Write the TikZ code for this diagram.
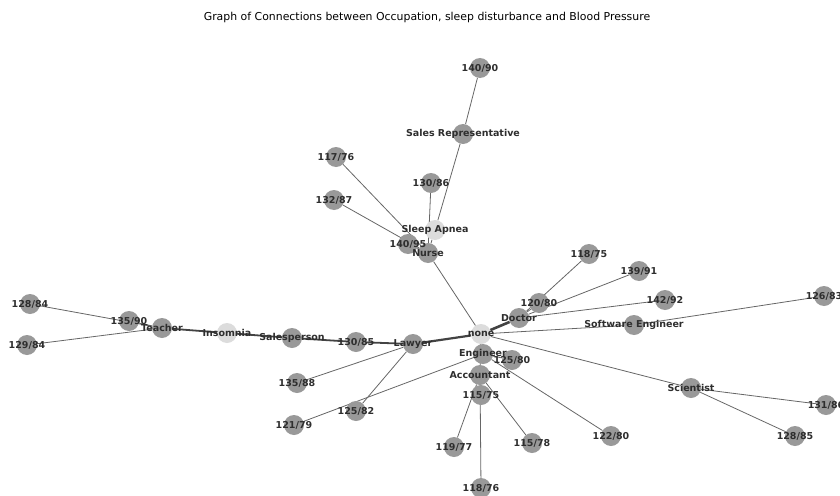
\documentclass[tikz,border=0pt]{standalone}
\usepackage{fontspec}
\setmainfont{DejaVu Sans}
\usepackage{xcolor}
\usepackage{tikz}
\usetikzlibrary{backgrounds}
\definecolor{NodeGray}{HTML}{999999}
\definecolor{NodeLight}{HTML}{DCDCDC}
\definecolor{EdgeGray}{HTML}{666666}
\definecolor{LabelInk}{HTML}{2E2E2E}
\tikzset{
  dot/.style={circle,fill=NodeGray,minimum size=20pt,inner sep=0pt},
  lightdot/.style={dot,fill=NodeLight},
  link/.style={draw=EdgeGray,line width=0.8pt},
  heavylink/.style={draw=LabelInk!90,line width=1.8pt},
  lbl/.style={font=\fontsize{9.5}{10}\selectfont\bfseries,text=LabelInk,inner sep=0pt},
  titletext/.style={font=\fontsize{10.9}{12}\selectfont,text=black,inner sep=0pt}
}

\begin{document}
\begin{tikzpicture}[x=1pt,y=-1pt]
    \useasboundingbox (0,0) rectangle (840,495);
    \clip (0,0) rectangle (840,495);
    \node[titletext] (title) at (427,17) {Graph of Connections between Occupation, sleep disturbance and Blood Pressure};

    % sleep disturbance
    \node[lightdot] (none) at (481,334) {};
    \node[lightdot] (insomnia) at (227,333) {};
    \node[lightdot] (apnea) at (435,230) {};

    % occupations
    \node[dot] (nurse) at (428,253) {};
    \node[dot] (salesrep) at (463,134) {};
    \node[dot] (doctor) at (519,318) {};
    \node[dot] (softeng) at (634,325) {};
    \node[dot] (scientist) at (691,388) {};
    \node[dot] (engineer) at (483,354) {};
    \node[dot] (accountant) at (480,375) {};
    \node[dot] (lawyer) at (413,344) {};
    \node[dot] (salesperson) at (292,338) {};
    \node[dot] (teacher) at (162,328) {};

    % blood pressure
    \node[dot] (bpA) at (408,244) {};
    \node[dot] (bpB) at (336,157) {};
    \node[dot] (bpC) at (334,200) {};
    \node[dot] (bpD) at (431,183) {};
    \node[dot] (bpE) at (480,68) {};
    \node[dot] (bpF) at (539,303) {};
    \node[dot] (bpG) at (589,254) {};
    \node[dot] (bpH) at (639,271) {};
    \node[dot] (bpI) at (665,300) {};
    \node[dot] (bpJ) at (824,296) {};
    \node[dot] (bpK) at (826,405) {};
    \node[dot] (bpL) at (795,436) {};
    \node[dot] (bpM) at (512,360) {};
    \node[dot] (bpN) at (481,395) {};
    \node[dot] (bpO) at (454,447) {};
    \node[dot] (bpP) at (532,443) {};
    \node[dot] (bpQ) at (611,436) {};
    \node[dot] (bpR) at (481,488) {};
    \node[dot] (bpS) at (356,342) {};
    \node[dot] (bpT) at (297,383) {};
    \node[dot] (bpU) at (356,411) {};
    \node[dot] (bpV) at (294,425) {};
    \node[dot] (bpW) at (129,321) {};
    \node[dot] (bpX) at (30,304) {};
    \node[dot] (bpY) at (27,345) {};

    \begin{pgfonlayer}{background}
      \foreach \a/\b in {apnea/nurse,apnea/salesrep,salesrep/bpE,nurse/bpA,nurse/bpB,nurse/bpC,nurse/bpD,nurse/none,
        doctor/bpF,doctor/bpG,doctor/bpH,doctor/bpI,none/softeng,softeng/bpJ,none/scientist,scientist/bpK,scientist/bpL,
        none/engineer,engineer/bpM,engineer/bpQ,engineer/bpV,none/accountant,accountant/bpN,accountant/bpO,accountant/bpP,accountant/bpR,
        lawyer/bpT,lawyer/bpU,teacher/bpW,teacher/bpX,teacher/bpY}
        \draw[link] (\a) -- (\b);
      \draw[heavylink] (teacher) -- (insomnia);
      \draw[heavylink] (insomnia) -- (salesperson);
      \draw[heavylink] (salesperson) -- (bpS);
      \draw[heavylink] (bpS) -- (lawyer);
      \draw[heavylink,line width=2.2pt] (lawyer) -- (none);
      \draw[heavylink,line width=2.6pt] (none) -- (doctor);
    \end{pgfonlayer}

    % labels over every disc
    \foreach \n/\t in {none/none,insomnia/Insomnia,apnea/Sleep Apnea,nurse/Nurse,salesrep/Sales Representative,
      doctor/Doctor,softeng/Software Engineer,scientist/Scientist,engineer/Engineer,accountant/Accountant,
      lawyer/Lawyer,salesperson/Salesperson,teacher/Teacher,
      bpA/140\slash 95,bpB/117\slash 76,bpC/132\slash 87,bpD/130\slash 86,bpE/140\slash 90,bpF/120\slash 80,
      bpG/118\slash 75,bpH/139\slash 91,bpI/142\slash 92,bpJ/126\slash 83,bpK/131\slash 86,bpL/128\slash 85,
      bpM/125\slash 80,bpN/115\slash 75,bpO/119\slash 77,bpP/115\slash 78,bpQ/122\slash 80,bpR/118\slash 76,
      bpS/130\slash 85,bpT/135\slash 88,bpU/125\slash 82,bpV/121\slash 79,bpW/135\slash 90,bpX/128\slash 84,bpY/129\slash 84}
      \node[lbl] (\n-t) at (\n) {\t};
  \end{tikzpicture}
\end{document}
